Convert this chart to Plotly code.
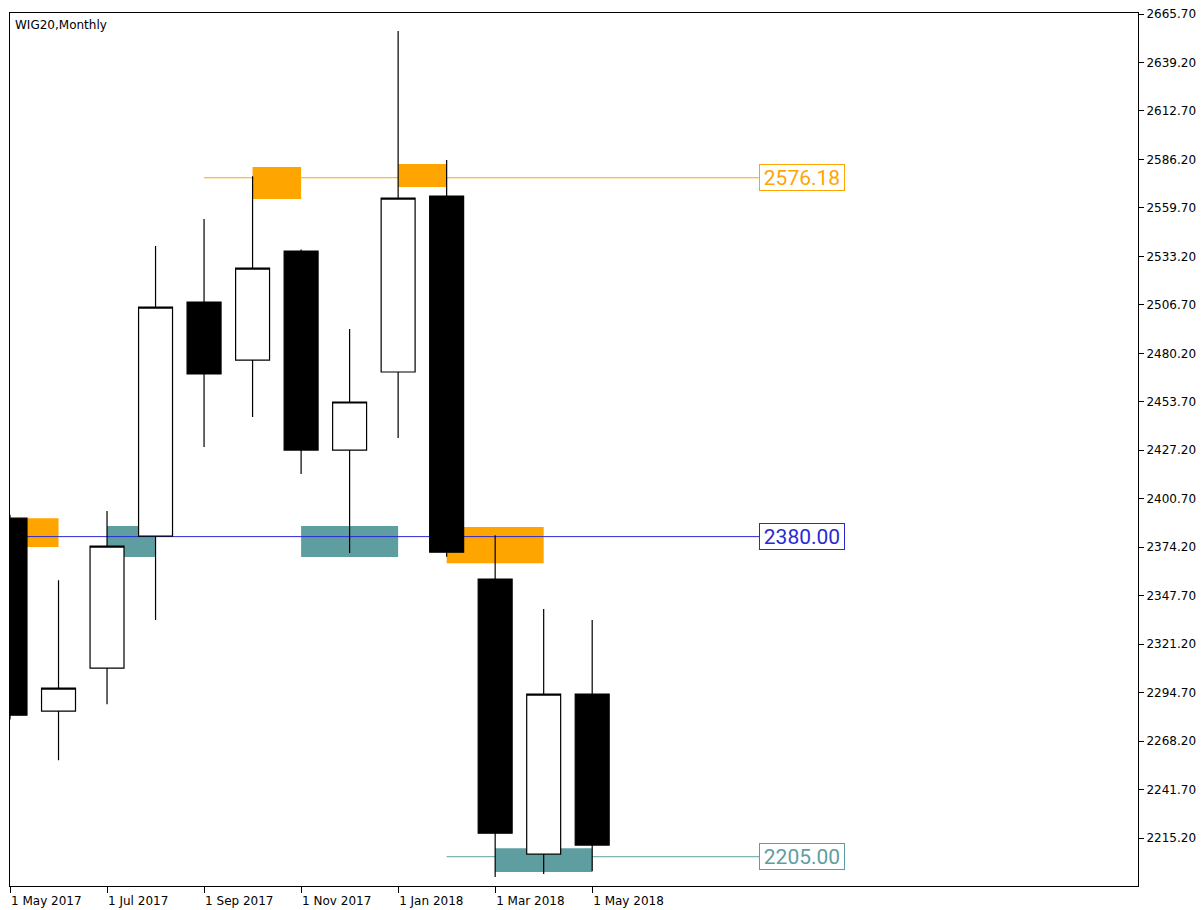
import plotly.graph_objects as go

# ---- data ----
months = ["May 2017", "Jun 2017", "Jul 2017", "Aug 2017", "Sep 2017", "Oct 2017", "Nov 2017",
          "Dec 2017", "Jan 2018", "Feb 2018", "Mar 2018", "Apr 2018", "May 2018"]
open_ = [2390.1, 2284.6, 2308.1, 2380.3, 2508.2, 2476.5, 2536.1, 2427.3, 2470.0, 2566.2, 2356.8, 2206.4, 2293.9]
high = [2392.0, 2356.2, 2394.0, 2538.9, 2553.6, 2577.0, 2537.0, 2493.5, 2656.4, 2585.9, 2380.8, 2340.4, 2334.4]
low = [2280.0, 2257.8, 2288.4, 2334.4, 2429.0, 2445.4, 2414.2, 2371.0, 2433.9, 2369.0, 2193.9, 2195.5, 2197.0]
close = [2282.4, 2297.2, 2374.8, 2505.5, 2468.9, 2526.8, 2427.3, 2453.6, 2565.1, 2371.5, 2217.9, 2293.9, 2211.4]

# supply / demand zones (month index start/end, price low/high)
supply_start = [0, 5, 8, 9]
supply_end = [1, 6, 9, 11]
supply_low = [2374.3, 2564.6, 2571.1, 2365.5]
supply_high = [2390.1, 2582.0, 2583.7, 2385.2]

demand_start = [2, 6, 10]
demand_end = [3, 8, 12]
demand_low = [2368.8, 2368.8, 2196.6]
demand_high = [2385.8, 2385.8, 2209.7]

# horizontal levels
level_values = [2576.18, 2380.00, 2205.00]
level_start = [4, 0, 9]
level_colors = ["#FFA500", "#2A2AD4", "#5F9EA0"]

xtick_pos = [0, 2, 4, 6, 8, 10, 12]
xtick_text = ["1 May 2017", "1 Jul 2017", "1 Sep 2017", "1 Nov 2017", "1 Jan 2018", "1 Mar 2018", "1 May 2018"]

# ---- layout constants ----
LABEL_X = 15.44
X_RANGE = [0, 23.25]
Y_RANGE = [2189.0, 2666.25]
ORANGE = "#FFA500"
TEAL = "#5F9EA0"

x_idx = list(range(len(months)))

fig = go.Figure()

fig.add_trace(go.Candlestick(
    x=x_idx, open=open_, high=high, low=low, close=close,
    increasing=dict(fillcolor="white", line=dict(color="black", width=1.2)),
    decreasing=dict(fillcolor="black", line=dict(color="black", width=1.2)),
    whiskerwidth=0, showlegend=False, hoverinfo="skip",
))

shapes = []
for s, e, lo, hi in zip(supply_start, supply_end, supply_low, supply_high):
    shapes.append(dict(type="rect", xref="x", yref="y", x0=s, x1=e, y0=lo, y1=hi,
                       fillcolor=ORANGE, line=dict(width=0), layer="below"))
for s, e, lo, hi in zip(demand_start, demand_end, demand_low, demand_high):
    shapes.append(dict(type="rect", xref="x", yref="y", x0=s, x1=e, y0=lo, y1=hi,
                       fillcolor=TEAL, line=dict(width=0), layer="below"))
for v, s, c in zip(level_values, level_start, level_colors):
    shapes.append(dict(type="line", xref="x", yref="y", x0=s, x1=LABEL_X, y0=v, y1=v,
                       line=dict(color=c, width=1), layer="below"))

annotations = []
for v, c in zip(level_values, level_colors):
    annotations.append(dict(x=LABEL_X, y=v, xref="x", yref="y", xanchor="left", yanchor="middle",
                            text=f"{v:.2f}", showarrow=False,
                            font=dict(family="Roboto", size=21, color=c),
                            bordercolor=c, borderwidth=1, borderpad=1, bgcolor="white",
                            width=82, height=23, align="center"))
annotations.append(dict(x=0, y=1, xref="paper", yref="paper", xanchor="left", yanchor="top",
                        xshift=3, yshift=-3, text="WIG20,Monthly", showarrow=False,
                        font=dict(family="DejaVu Sans", size=12, color="black")))

fig.update_layout(
    width=1201, height=910,
    margin=dict(l=10, r=63, t=13, b=24, autoexpand=False),
    paper_bgcolor="white", plot_bgcolor="white",
    boxgap=0.3, boxgroupgap=0,
    shapes=shapes, annotations=annotations,
    showlegend=False,
    font=dict(family="DejaVu Sans", size=12, color="black"),
)
fig.update_xaxes(
    range=X_RANGE, rangeslider=dict(visible=False), automargin=False,
    tickmode="array", tickvals=xtick_pos, ticktext=xtick_text,
    ticks="outside", ticklen=6, tickcolor="black", ticklabelposition="outside right",
    ticklabelstandoff=4,
    showgrid=False, zeroline=False, showline=True, linecolor="black", linewidth=1, mirror=True,
    tickfont=dict(family="DejaVu Sans", size=12, color="black"),
)
fig.update_yaxes(
    range=Y_RANGE, side="right", automargin=False,
    tickmode="linear", tick0=2215.2, dtick=26.5, tickformat=".2f",
    ticks="outside", ticklen=5, tickcolor="black",
    showgrid=False, zeroline=False, showline=True, linecolor="black", linewidth=1, mirror=True,
    tickfont=dict(family="DejaVu Sans", size=12, color="black"),
)

fig.write_html("out.html", config={"displayModeBar": False},
               post_script="document.body.style.margin='0';document.body.style.overflow='hidden';")
